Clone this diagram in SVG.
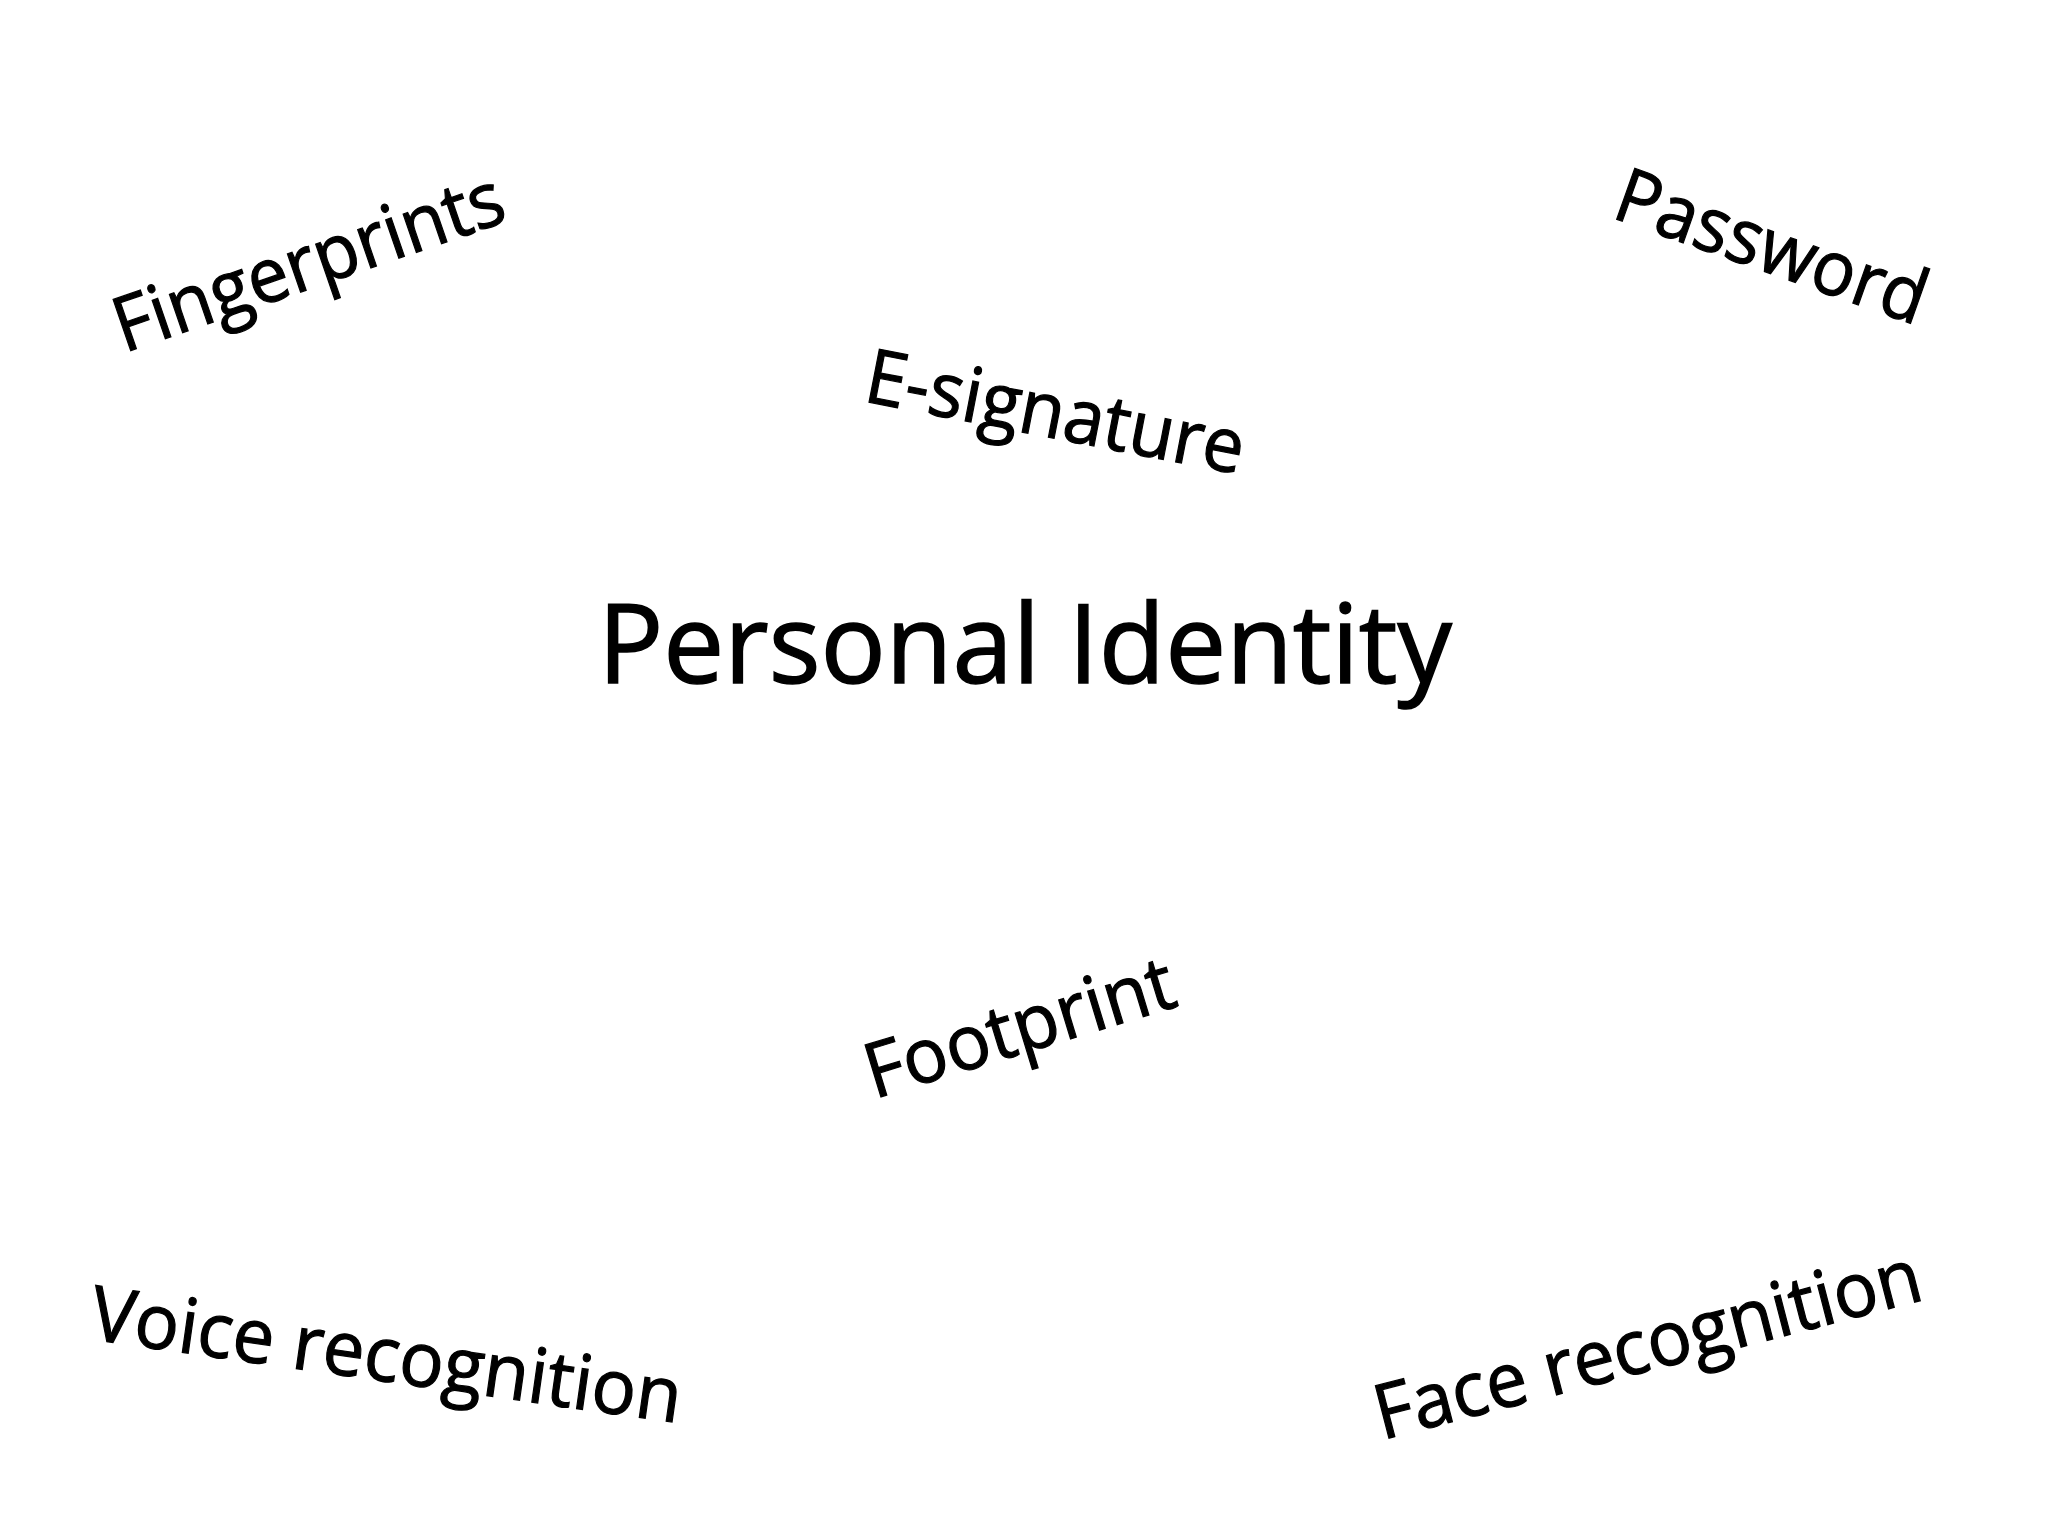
<svg xmlns="http://www.w3.org/2000/svg" width="2048" height="1536" viewBox="0 0 2048 1536">
<style>
.lbl{font-family:"Open Sans","Noto Sans","Liberation Sans",sans-serif;font-size:76px;fill:#000;stroke:#000;stroke-width:1.2px;}
.title{font-family:"Open Sans","Noto Sans","Liberation Sans",sans-serif;font-size:110px;fill:#000;stroke:#000;stroke-width:1.5px;}
</style>
<rect width="2048" height="1536" fill="#fff"/>
<g id="personal-identity"><text class="title" x="598" y="683" textLength="854" lengthAdjust="spacingAndGlyphs">Personal Identity</text></g>
<g id="fingerprints" transform="translate(124,353) rotate(-19)"><text class="lbl" x="0" y="0" textLength="408" lengthAdjust="spacingAndGlyphs">Fingerprints</text></g>
<g id="password" transform="translate(1610,217) rotate(19.5)"><text class="lbl" x="0" y="0" textLength="325" lengthAdjust="spacingAndGlyphs">Password</text></g>
<g id="e-signature" transform="translate(862,401) rotate(11)"><text class="lbl" x="0" y="0" textLength="384" lengthAdjust="spacingAndGlyphs">E-signature</text></g>
<g id="footprint" transform="translate(874,1099) rotate(-17)"><text class="lbl" x="0" y="0" textLength="320" lengthAdjust="spacingAndGlyphs">Footprint</text></g>
<g id="voice-recognition" transform="translate(88,1339) rotate(8.1)"><text class="lbl" x="0" y="0" textLength="596" lengthAdjust="spacingAndGlyphs">Voice recognition</text></g>
<g id="face-recognition" transform="translate(1382,1440) rotate(-14.5)"><text class="lbl" x="0" y="0" textLength="562" lengthAdjust="spacingAndGlyphs">Face recognition</text></g>
<g id="connectors"></g>
</svg>
